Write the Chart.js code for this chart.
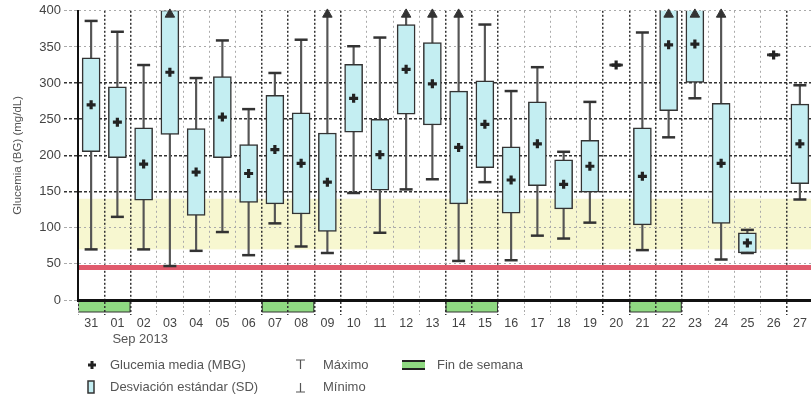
<!DOCTYPE html>
<html>
<head>
<meta charset="utf-8">
<script src="https://cdn.jsdelivr.net/npm/chart.js@4.4.0/dist/chart.umd.min.js"></script>
<style>
html, body { margin: 0; padding: 0; background: #fff; overflow: hidden; }
#wrap { width: 822px; height: 397px; }
</style>
</head>
<body>
<div id="wrap"><canvas id="chart" width="822" height="397"></canvas></div>
<script>
// days shown (31 Aug 2013 .. 27 Sep 2013)
const days = ['31', '01', '02', '03', '04', '05', '06', '07', '08', '09', '10', '11', '12', '13',
              '14', '15', '16', '17', '18', '19', '20', '21', '22', '23', '24', '25', '26', '27'];
const meanBG = [270, 246, 188, 315, 177, 253, 175, 208, 189, 163, 279, 201, 319, 299,
                211, 243, 166, 216, 160, 185, 325, 171, 353, 354, 189, 79, 339, 216];
const sdBG =   [65, 49, 50, 86, 60, 56, 40, 75, 70, 68, 47, 49, 62, 57,
                78, 60, 46, 58, 34, 36, 0, 67, 91, 53, 83, 14, 0, 55];
// values above 400 are off the scale (drawn as a triangle at the top)
const maxBG =  [386, 371, 325, 430, 307, 359, 264, 314, 360, 430, 351, 363, 430, 430,
                430, 381, 289, 322, 205, 274, 325, 370, 430, 430, 430, 97, 339, 297];
const minBG =  [70, 115, 70, 47, 68, 94, 62, 106, 74, 65, 148, 93, 153, 167,
                54, 163, 55, 89, 85, 107, 325, 69, 225, 279, 56, 65, 339, 139];
const weekendStart = [0, 7, 14, 21];
const targetRange = [70, 140];
const hypoLimit = 45;
const yMax = 400;
const darkCols = [1, 2, 7, 8, 9, 10, 14, 15, 16, 20, 21, 22, 23, 27];
const darkRows = [150, 200, 250, 300];

const FONT = "'Liberation Sans', Arial, sans-serif";

const extras = {
    id: 'extras',
    beforeDraw(chart) {
        const { ctx, chartArea: a, scales: { x, y } } = chart;
        ctx.save();
        // target range band
        const t = y.getPixelForValue(targetRange[1]);
        const b = y.getPixelForValue(targetRange[0]);
        ctx.fillStyle = '#f7f7d0';
        ctx.fillRect(a.left, t, a.right - a.left, b - t);
        // weekend bars below the axis
        const colW = (a.right - a.left) / days.length;
        weekendStart.forEach(w => {
            const l = x.getPixelForValue(w) - colW / 2;
            const r = x.getPixelForValue(w + 1) + colW / 2;
            ctx.fillStyle = '#8fd982';
            ctx.fillRect(l, a.bottom, r - l, 12);
            ctx.strokeStyle = '#333';
            ctx.lineWidth = 1;
            ctx.strokeRect(l + 0.5, a.bottom + 0.5, r - l - 1, 11.5);
        });
        ctx.restore();
    },
    beforeDatasetsDraw(chart) {
        const { ctx, chartArea: a, scales: { y } } = chart;
        ctx.save();
        ctx.strokeStyle = '#e05a6c';
        ctx.lineWidth = 5;
        ctx.beginPath();
        ctx.moveTo(a.left + 1, y.getPixelForValue(hypoLimit));
        ctx.lineTo(a.right, y.getPixelForValue(hypoLimit));
        ctx.stroke();
        ctx.restore();
    },
    afterDraw(chart) {
        const { ctx, scales: { x } } = chart;
        ctx.save();
        ctx.fillStyle = '#555';
        ctx.font = '13px ' + FONT;
        ctx.textBaseline = 'middle';
        ctx.fillText('Sep 2013', x.getPixelForValue(1) - 5, 339);

        // legend
        ctx.fillText('Glucemia media (MBG)', 110, 365);
        ctx.fillText('Desviación estándar (SD)', 110, 387);
        ctx.fillText('Máximo', 323, 365);
        ctx.fillText('Mínimo', 323, 387);
        ctx.fillText('Fin de semana', 437, 365);

        ctx.strokeStyle = '#222';
        ctx.lineWidth = 3;
        ctx.beginPath();
        ctx.moveTo(88, 365); ctx.lineTo(96, 365);
        ctx.moveTo(92, 361); ctx.lineTo(92, 369);
        ctx.stroke();

        ctx.fillStyle = '#c4eef2';
        ctx.fillRect(88, 381, 6, 12);
        ctx.lineWidth = 1.5;
        ctx.strokeStyle = '#333';
        ctx.strokeRect(88, 381, 6, 12);

        ctx.lineWidth = 1.2;
        ctx.strokeStyle = '#555';
        ctx.beginPath();
        ctx.moveTo(296, 360); ctx.lineTo(305, 360);
        ctx.moveTo(300.5, 360); ctx.lineTo(300.5, 369);
        ctx.moveTo(296, 392); ctx.lineTo(305, 392);
        ctx.moveTo(300.5, 383); ctx.lineTo(300.5, 392);
        ctx.stroke();

        ctx.fillStyle = '#8fd982';
        ctx.fillRect(402, 360, 23, 10);
        ctx.fillStyle = '#222';
        ctx.fillRect(402, 360, 23, 2);
        ctx.fillRect(402, 368, 23, 2);
        ctx.restore();
    }
};

new Chart(document.getElementById('chart'), {
    type: 'bar',
    data: {
        labels: days,
        datasets: [
            {
                label: 'Rango',
                data: days.map((d, i) => [minBG[i], maxBG[i]]),
                backgroundColor: '#555',
                barThickness: 1.5,
                grouped: false,
                clip: 0,
                order: 5
            },
            {
                label: 'Desviación estándar (SD)',
                data: days.map((d, i) => [meanBG[i] - sdBG[i], meanBG[i] + sdBG[i]]),
                backgroundColor: '#c4eef2',
                borderColor: '#333',
                borderWidth: 1.5,
                borderSkipped: false,
                barThickness: 18,
                grouped: false,
                clip: 0,
                order: 4
            },
            {
                type: 'line',
                label: 'Máximo',
                data: maxBG.map(v => v > yMax ? null : v),
                showLine: false,
                pointStyle: 'line',
                pointRadius: 6.5,
                pointBorderWidth: 2.5,
                pointBorderColor: '#333',
                clip: false,
                order: 3
            },
            {
                type: 'line',
                label: 'Máximo > 400',
                data: maxBG.map(v => v > yMax ? yMax - 5 : null),
                showLine: false,
                pointStyle: 'triangle',
                pointRadius: 5.5,
                pointBorderWidth: 1,
                pointBorderColor: '#333',
                pointBackgroundColor: '#333',
                clip: false,
                order: 3
            },
            {
                type: 'line',
                label: 'Mínimo',
                data: minBG,
                showLine: false,
                pointStyle: 'line',
                pointRadius: 6.5,
                pointBorderWidth: 2.5,
                pointBorderColor: '#333',
                clip: false,
                order: 3
            },
            {
                type: 'line',
                label: 'Glucemia media (MBG)',
                data: meanBG,
                showLine: false,
                pointStyle: 'cross',
                pointRadius: 4.5,
                pointBorderWidth: 3.2,
                pointBorderColor: '#222',
                clip: false,
                order: 1
            }
        ]
    },
    options: {
        responsive: false,
        animation: false,
        events: [],
        layout: { padding: { top: 10, right: 5, left: 0, bottom: 0 } },
        plugins: {
            legend: { display: false },
            tooltip: { enabled: false }
        },
        scales: {
            x: {
                offset: true,
                grid: {
                    offset: true,
                    color: c => darkCols.includes(c.index) ? '#333' : '#aaa',
                    lineWidth: c => darkCols.includes(c.index) ? 1.5 : 1,
                    tickLength: 15,
                    tickBorderDash: [2, 2]
                },
                border: {
                    color: '#111',
                    width: 3,
                    dash: c => darkCols.includes(c.index) ? [2, 2] : [2, 3]
                },
                ticks: {
                    color: '#444',
                    font: { size: 12.5, family: FONT },
                    padding: 1,
                    maxRotation: 0,
                    autoSkip: false
                },
                afterFit: s => { s.height = 97; }
            },
            y: {
                min: 0,
                max: yMax,
                ticks: {
                    stepSize: 50,
                    color: '#444',
                    font: { size: 13, family: FONT },
                    padding: 3
                },
                grid: {
                    color: c => darkRows.includes(c.tick && c.tick.value) ? '#333' : '#aaa',
                    lineWidth: c => darkRows.includes(c.tick && c.tick.value) ? 1.5 : 1,
                    tickLength: 14,
                    tickBorderDash: [3, 2]
                },
                border: {
                    color: '#111',
                    width: 2,
                    dash: c => darkRows.includes(c.tick && c.tick.value) ? [3, 2] : [2, 3]
                },
                title: {
                    display: true,
                    text: 'Glucemia (BG) (mg/dL)',
                    color: '#555',
                    font: { size: 11.5, family: FONT },
                    padding: { top: 11, bottom: 0 }
                },
                afterFit: s => { s.width = 78; }
            }
        }
    },
    plugins: [extras]
});
</script>
</body>
</html>
